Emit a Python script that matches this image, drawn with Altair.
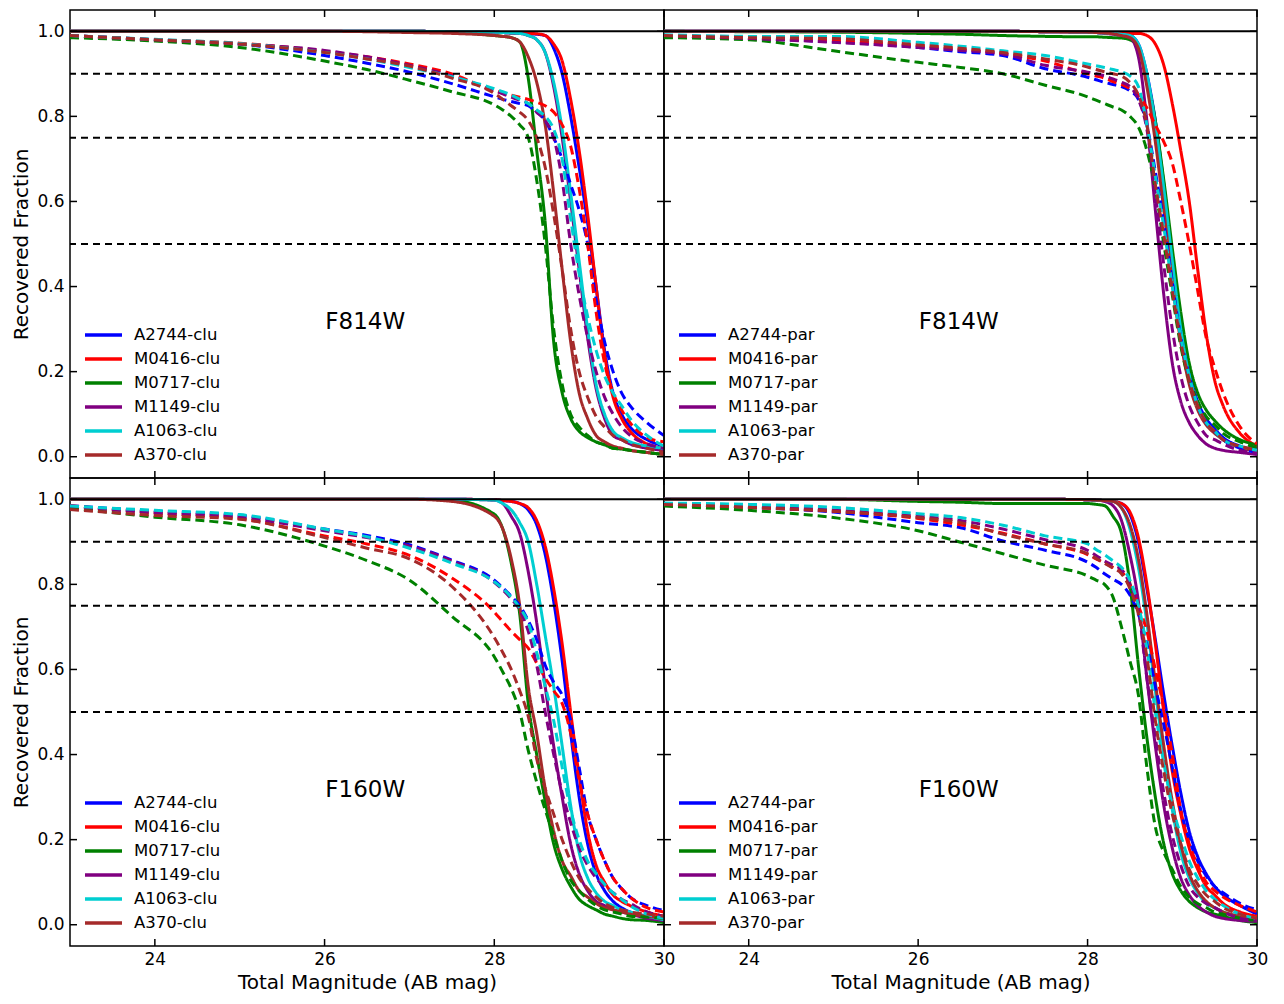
import altair as alt
import pandas as pd

FONT = "DejaVu Sans"

# magnitude grid shared by every curve
MAG = [23.0, 24.0, 25.0, 26.0, 26.5, 27.0, 27.5, 28.0, 28.1, 28.2, 28.3, 28.4, 28.5,
       28.6, 28.7, 28.8, 28.9, 29.0, 29.1, 29.2, 29.3, 29.4, 29.5, 29.6, 29.8, 30.0]

CLUSTERS = ["A2744", "M0416", "M0717", "M1149", "A1063", "A370"]
COLORS = ["#0000ff", "#ff0000", "#008000", "#800080", "#00ced1", "#a52a2a"]
VARIANTS = ["A", "B"]  # A = solid curves, B = dashed curves

X_TICKS = [24, 26, 28, 30]
Y_TICKS = [0.0, 0.2, 0.4, 0.6, 0.8, 1.0]
REF_SOLID = [1.0]
REF_DASHED = [0.9, 0.75, 0.5]

# ---------------- F814W, cluster fields ----------------
F814W_CLU_A = [
    [1, 1, 1, 1, 1, 1, 0.999, 0.998, 0.997, 0.996, 0.995, 0.994, 0.993, 0.99, 0.96, 0.90, 0.80, 0.68, 0.55, 0.40, 0.25, 0.15, 0.10, 0.07, 0.04, 0.025],
    [1, 1, 1, 1, 1, 1, 0.999, 0.998, 0.997, 0.996, 0.995, 0.995, 0.994, 0.99, 0.97, 0.93, 0.84, 0.72, 0.57, 0.40, 0.24, 0.14, 0.09, 0.06, 0.03, 0.02],
    [1, 1, 1, 1, 1, 1, 0.998, 0.99, 0.988, 0.985, 0.975, 0.89, 0.72, 0.55, 0.27, 0.15, 0.09, 0.06, 0.045, 0.035, 0.028, 0.02, 0.018, 0.015, 0.01, 0.005],
    [1, 1, 1, 1, 1, 1, 0.999, 0.998, 0.997, 0.996, 0.995, 0.99, 0.98, 0.95, 0.87, 0.75, 0.60, 0.44, 0.28, 0.16, 0.09, 0.05, 0.04, 0.03, 0.02, 0.015],
    [1, 1, 1, 1, 1, 1, 0.999, 0.998, 0.997, 0.996, 0.995, 0.99, 0.98, 0.95, 0.88, 0.77, 0.62, 0.46, 0.30, 0.17, 0.10, 0.06, 0.045, 0.035, 0.025, 0.02],
    [1, 1, 1, 1, 0.999, 0.997, 0.995, 0.99, 0.988, 0.985, 0.975, 0.94, 0.88, 0.78, 0.62, 0.44, 0.27, 0.15, 0.09, 0.05, 0.035, 0.025, 0.02, 0.015, 0.01, 0.005],
]
F814W_CLU_B = [
    [0.99, 0.98, 0.97, 0.943, 0.925, 0.904, 0.877, 0.846, 0.84, 0.835, 0.83, 0.825, 0.81, 0.79, 0.75, 0.70, 0.64, 0.58, 0.50, 0.37, 0.27, 0.20, 0.15, 0.12, 0.08, 0.05],
    [0.99, 0.98, 0.972, 0.953, 0.94, 0.923, 0.90, 0.86, 0.855, 0.85, 0.845, 0.84, 0.833, 0.825, 0.81, 0.78, 0.73, 0.63, 0.50, 0.34, 0.22, 0.15, 0.11, 0.08, 0.045, 0.035],
    [0.985, 0.977, 0.962, 0.93, 0.91, 0.885, 0.858, 0.827, 0.815, 0.80, 0.78, 0.75, 0.65, 0.50, 0.30, 0.17, 0.10, 0.07, 0.05, 0.035, 0.028, 0.02, 0.018, 0.015, 0.01, 0.005],
    [0.99, 0.98, 0.97, 0.955, 0.94, 0.92, 0.895, 0.86, 0.853, 0.845, 0.838, 0.83, 0.81, 0.79, 0.75, 0.65, 0.50, 0.38, 0.28, 0.20, 0.14, 0.10, 0.07, 0.05, 0.03, 0.02],
    [0.99, 0.981, 0.971, 0.95, 0.935, 0.915, 0.893, 0.865, 0.858, 0.85, 0.84, 0.83, 0.815, 0.80, 0.77, 0.70, 0.56, 0.43, 0.33, 0.25, 0.19, 0.15, 0.12, 0.09, 0.05, 0.025],
    [0.99, 0.98, 0.97, 0.95, 0.935, 0.918, 0.89, 0.854, 0.84, 0.825, 0.81, 0.79, 0.75, 0.68, 0.57, 0.44, 0.30, 0.20, 0.14, 0.095, 0.07, 0.05, 0.04, 0.03, 0.02, 0.01],
]

# ---------------- F814W, parallel fields ----------------
F814W_PAR_A = [
    [1, 1, 1, 1, 1, 1, 0.999, 0.998, 0.997, 0.996, 0.995, 0.993, 0.99, 0.97, 0.90, 0.79, 0.64, 0.47, 0.31, 0.20, 0.13, 0.09, 0.065, 0.045, 0.025, 0.015],
    [1, 1, 1, 1, 1, 1, 0.999, 0.998, 0.998, 0.997, 0.997, 0.996, 0.995, 0.995, 0.99, 0.97, 0.92, 0.83, 0.72, 0.60, 0.44, 0.29, 0.18, 0.12, 0.055, 0.025],
    [1, 0.999, 0.998, 0.995, 0.993, 0.99, 0.988, 0.987, 0.987, 0.986, 0.985, 0.984, 0.98, 0.96, 0.89, 0.79, 0.65, 0.49, 0.34, 0.22, 0.15, 0.11, 0.085, 0.065, 0.04, 0.028],
    [1, 1, 1, 1, 1, 1, 0.999, 0.998, 0.997, 0.995, 0.993, 0.99, 0.985, 0.94, 0.79, 0.58, 0.38, 0.22, 0.13, 0.08, 0.05, 0.03, 0.02, 0.015, 0.01, 0.005],
    [1, 1, 1, 1, 1, 1, 0.999, 0.998, 0.997, 0.996, 0.995, 0.993, 0.99, 0.97, 0.90, 0.78, 0.63, 0.46, 0.30, 0.19, 0.12, 0.08, 0.06, 0.04, 0.022, 0.013],
    [1, 1, 1, 1, 1, 1, 0.999, 0.998, 0.997, 0.996, 0.994, 0.99, 0.985, 0.96, 0.87, 0.74, 0.58, 0.41, 0.27, 0.17, 0.11, 0.075, 0.055, 0.04, 0.022, 0.012],
]
F814W_PAR_B = [
    [0.99, 0.983, 0.975, 0.962, 0.952, 0.943, 0.912, 0.892, 0.886, 0.88, 0.875, 0.87, 0.86, 0.84, 0.78, 0.67, 0.55, 0.41, 0.28, 0.19, 0.12, 0.08, 0.06, 0.04, 0.02, 0.01],
    [0.99, 0.983, 0.978, 0.966, 0.958, 0.947, 0.93, 0.90, 0.895, 0.89, 0.882, 0.875, 0.865, 0.85, 0.82, 0.78, 0.74, 0.69, 0.60, 0.50, 0.39, 0.28, 0.21, 0.15, 0.07, 0.03],
    [0.985, 0.98, 0.954, 0.927, 0.915, 0.90, 0.873, 0.846, 0.838, 0.83, 0.822, 0.815, 0.80, 0.775, 0.72, 0.63, 0.50, 0.38, 0.26, 0.18, 0.13, 0.095, 0.075, 0.055, 0.035, 0.02],
    [0.99, 0.983, 0.974, 0.962, 0.955, 0.947, 0.92, 0.904, 0.90, 0.895, 0.888, 0.88, 0.87, 0.84, 0.77, 0.62, 0.45, 0.30, 0.19, 0.12, 0.08, 0.05, 0.04, 0.03, 0.015, 0.01],
    [0.992, 0.988, 0.988, 0.974, 0.965, 0.954, 0.943, 0.923, 0.919, 0.915, 0.91, 0.905, 0.895, 0.87, 0.78, 0.66, 0.54, 0.40, 0.28, 0.19, 0.12, 0.08, 0.06, 0.04, 0.025, 0.015],
    [0.99, 0.985, 0.983, 0.968, 0.96, 0.95, 0.935, 0.916, 0.91, 0.905, 0.90, 0.895, 0.88, 0.85, 0.78, 0.64, 0.52, 0.39, 0.27, 0.18, 0.12, 0.08, 0.06, 0.04, 0.025, 0.015],
]

# ---------------- F160W, cluster fields ----------------
F160W_CLU_A = [
    [1, 1, 1, 1, 1, 1, 1, 0.999, 0.997, 0.995, 0.99, 0.975, 0.94, 0.87, 0.76, 0.62, 0.45, 0.30, 0.19, 0.12, 0.08, 0.055, 0.04, 0.03, 0.02, 0.012],
    [1, 1, 1, 1, 1, 1, 1, 0.999, 0.997, 0.995, 0.99, 0.98, 0.95, 0.89, 0.79, 0.66, 0.50, 0.35, 0.22, 0.14, 0.10, 0.07, 0.055, 0.045, 0.03, 0.02],
    [1, 1, 1, 1, 1, 1, 0.998, 0.965, 0.93, 0.85, 0.73, 0.52, 0.40, 0.29, 0.19, 0.13, 0.09, 0.06, 0.045, 0.035, 0.025, 0.02, 0.015, 0.012, 0.01, 0.005],
    [1, 1, 1, 1, 1, 1, 1, 0.998, 0.99, 0.96, 0.92, 0.83, 0.71, 0.56, 0.42, 0.30, 0.19, 0.12, 0.08, 0.055, 0.045, 0.035, 0.03, 0.025, 0.015, 0.01],
    [1, 1, 1, 1, 1, 1, 1, 0.998, 0.99, 0.975, 0.945, 0.90, 0.80, 0.68, 0.56, 0.42, 0.28, 0.17, 0.11, 0.075, 0.055, 0.045, 0.035, 0.03, 0.02, 0.012],
    [1, 1, 1, 1, 1, 1, 0.995, 0.96, 0.93, 0.86, 0.75, 0.56, 0.45, 0.32, 0.22, 0.15, 0.115, 0.08, 0.065, 0.05, 0.04, 0.035, 0.03, 0.025, 0.02, 0.015],
]
F160W_CLU_B = [
    [0.985, 0.972, 0.962, 0.93, 0.915, 0.893, 0.857, 0.81, 0.792, 0.772, 0.75, 0.715, 0.67, 0.61, 0.57, 0.54, 0.48, 0.37, 0.26, 0.20, 0.15, 0.11, 0.085, 0.065, 0.045, 0.033],
    [0.985, 0.968, 0.955, 0.914, 0.895, 0.868, 0.815, 0.735, 0.712, 0.69, 0.67, 0.65, 0.615, 0.58, 0.55, 0.52, 0.45, 0.34, 0.26, 0.20, 0.15, 0.11, 0.085, 0.065, 0.04, 0.03],
    [0.98, 0.958, 0.94, 0.89, 0.856, 0.81, 0.725, 0.63, 0.594, 0.555, 0.50, 0.41, 0.335, 0.27, 0.21, 0.15, 0.105, 0.08, 0.06, 0.045, 0.035, 0.03, 0.025, 0.02, 0.018, 0.015],
    [0.984, 0.968, 0.958, 0.926, 0.91, 0.89, 0.855, 0.805, 0.787, 0.766, 0.74, 0.69, 0.61, 0.50, 0.40, 0.31, 0.24, 0.18, 0.14, 0.11, 0.09, 0.075, 0.06, 0.05, 0.03, 0.02],
    [0.984, 0.974, 0.964, 0.93, 0.912, 0.885, 0.85, 0.806, 0.79, 0.77, 0.745, 0.71, 0.64, 0.56, 0.48, 0.37, 0.27, 0.20, 0.15, 0.12, 0.095, 0.075, 0.06, 0.045, 0.025, 0.015],
    [0.976, 0.962, 0.953, 0.91, 0.885, 0.86, 0.795, 0.675, 0.64, 0.60, 0.55, 0.49, 0.39, 0.32, 0.26, 0.20, 0.15, 0.11, 0.085, 0.065, 0.05, 0.04, 0.035, 0.03, 0.025, 0.02],
]

# ---------------- F160W, parallel fields ----------------
F160W_PAR_A = [
    [1, 1, 1, 1, 1, 1, 1, 0.999, 0.998, 0.997, 0.995, 0.99, 0.965, 0.90, 0.79, 0.67, 0.54, 0.42, 0.31, 0.22, 0.16, 0.12, 0.09, 0.07, 0.045, 0.025],
    [1, 1, 1, 1, 1, 1, 1, 0.999, 0.998, 0.997, 0.995, 0.99, 0.97, 0.91, 0.80, 0.66, 0.50, 0.36, 0.26, 0.18, 0.13, 0.09, 0.07, 0.05, 0.03, 0.02],
    [1, 1, 1, 0.995, 0.993, 0.99, 0.99, 0.99, 0.988, 0.985, 0.96, 0.92, 0.80, 0.61, 0.44, 0.30, 0.19, 0.12, 0.08, 0.055, 0.04, 0.03, 0.025, 0.02, 0.01, 0.005],
    [1, 1, 1, 1, 1, 1, 1, 0.999, 0.998, 0.995, 0.985, 0.95, 0.87, 0.76, 0.58, 0.42, 0.28, 0.18, 0.11, 0.07, 0.045, 0.03, 0.02, 0.015, 0.01, 0.008],
    [1, 1, 1, 1, 1, 1, 1, 0.999, 0.998, 0.997, 0.995, 0.98, 0.93, 0.84, 0.71, 0.55, 0.40, 0.27, 0.17, 0.11, 0.075, 0.05, 0.04, 0.03, 0.02, 0.012],
    [1, 1, 1, 1, 1, 1, 1, 0.999, 0.998, 0.997, 0.995, 0.98, 0.94, 0.86, 0.73, 0.57, 0.42, 0.29, 0.19, 0.12, 0.08, 0.055, 0.04, 0.03, 0.02, 0.01],
]
F160W_PAR_B = [
    [0.988, 0.981, 0.97, 0.945, 0.933, 0.902, 0.88, 0.852, 0.84, 0.825, 0.812, 0.80, 0.775, 0.73, 0.66, 0.56, 0.47, 0.37, 0.27, 0.20, 0.15, 0.115, 0.09, 0.075, 0.05, 0.035],
    [0.988, 0.981, 0.972, 0.955, 0.94, 0.92, 0.895, 0.87, 0.86, 0.85, 0.84, 0.83, 0.80, 0.75, 0.69, 0.60, 0.51, 0.40, 0.27, 0.19, 0.14, 0.10, 0.08, 0.065, 0.045, 0.03],
    [0.984, 0.974, 0.957, 0.926, 0.899, 0.872, 0.845, 0.82, 0.81, 0.80, 0.77, 0.70, 0.62, 0.54, 0.37, 0.23, 0.17, 0.13, 0.09, 0.065, 0.05, 0.04, 0.03, 0.025, 0.015, 0.01],
    [0.99, 0.984, 0.975, 0.96, 0.95, 0.93, 0.905, 0.88, 0.868, 0.855, 0.845, 0.835, 0.80, 0.74, 0.58, 0.44, 0.31, 0.21, 0.14, 0.09, 0.065, 0.05, 0.04, 0.03, 0.015, 0.01],
    [0.991, 0.988, 0.981, 0.966, 0.957, 0.939, 0.914, 0.895, 0.882, 0.87, 0.855, 0.84, 0.81, 0.75, 0.65, 0.50, 0.38, 0.28, 0.21, 0.15, 0.11, 0.08, 0.06, 0.045, 0.025, 0.015],
    [0.988, 0.981, 0.972, 0.957, 0.945, 0.918, 0.895, 0.872, 0.861, 0.85, 0.838, 0.825, 0.79, 0.73, 0.63, 0.48, 0.36, 0.26, 0.19, 0.13, 0.095, 0.07, 0.055, 0.04, 0.025, 0.015],
]

PANEL_LABEL_MAG = 26.48
PANEL_LABEL_FRAC = 0.316

H = 468
W_LEFT = 594
W_RIGHT = 593
TICK_LEN = 7


def make_panel(band, field_kind, solid, dashed, show_x, show_y, width):
    names = [f"{c}-{field_kind}" for c in CLUSTERS]
    rows = []
    for variant, block in zip(VARIANTS, [solid, dashed]):
        for name, vals in zip(names, block):
            for m, v in zip(MAG, vals):
                rows.append({"mag": m, "frac": v, "series": name, "variant": variant})
    df = pd.DataFrame(rows)

    xscale = alt.Scale(domain=[23, 30], nice=False, zero=False)
    yscale = alt.Scale(domain=[-0.05, 1.05], nice=False, zero=False)

    if show_x:
        xaxis = alt.Axis(values=X_TICKS, format="d", title="Total Magnitude (AB mag)",
                         labelPadding=5, titlePadding=5)
    else:
        xaxis = None
    if show_y:
        yaxis = alt.Axis(values=Y_TICKS, format=".1f", title="Recovered Fraction",
                         labelPadding=6, titlePadding=5)
    else:
        yaxis = None

    def X(field):
        return alt.X(field, scale=xscale, axis=xaxis, title="Total Magnitude (AB mag)")

    def Y(field):
        return alt.Y(field, scale=yscale, axis=yaxis, title="Recovered Fraction")

    lines = alt.Chart(df).mark_line(strokeWidth=3, interpolate="monotone", clip=True).encode(
        x=X("mag:Q"),
        y=Y("frac:Q"),
        color=alt.Color(
            "series:N",
            scale=alt.Scale(domain=names, range=COLORS),
            legend=alt.Legend(
                title=None, orient="bottom-left", offset=13, padding=0,
                symbolType="stroke", symbolSize=1369, symbolStrokeWidth=3.5,
                labelFontSize=16.5, labelFont=FONT, labelColor="black",
                labelOffset=10, clipHeight=20, rowPadding=4, labelLimit=300,
            ),
        ),
        strokeDash=alt.StrokeDash(
            "variant:N",
            scale=alt.Scale(domain=VARIANTS, range=[[1, 0], [9, 5]]),
            legend=None,
        ),
    )

    solid_ref = alt.Chart(pd.DataFrame({"level": REF_SOLID})).mark_rule(
        color="black", strokeWidth=2
    ).encode(y=Y("level:Q"))
    dashed_ref = alt.Chart(pd.DataFrame({"level": REF_DASHED})).mark_rule(
        color="black", strokeWidth=2, strokeDash=[7, 5]
    ).encode(y=Y("level:Q"))

    xt = pd.DataFrame({"t": X_TICKS})
    yt = pd.DataFrame({"t": Y_TICKS})
    tick_style = dict(color="black", strokeWidth=1.5)
    xt_bottom = alt.Chart(xt).mark_rule(**tick_style).encode(
        x=X("t:Q"), y=alt.value(H), y2=alt.value(H - TICK_LEN))
    xt_top = alt.Chart(xt).mark_rule(**tick_style).encode(
        x=X("t:Q"), y=alt.value(0), y2=alt.value(TICK_LEN))
    yt_left = alt.Chart(yt).mark_rule(**tick_style).encode(
        y=Y("t:Q"), x=alt.value(0), x2=alt.value(TICK_LEN))
    yt_right = alt.Chart(yt).mark_rule(**tick_style).encode(
        y=Y("t:Q"), x=alt.value(width - TICK_LEN), x2=alt.value(width))

    label = alt.Chart(pd.DataFrame({"mag": [PANEL_LABEL_MAG], "frac": [PANEL_LABEL_FRAC], "text": [band]})).mark_text(
        font=FONT, fontSize=23, color="black", align="center", baseline="middle"
    ).encode(
        x=X("mag:Q"),
        y=Y("frac:Q"),
        text="text:N",
    )

    return alt.layer(lines, solid_ref, dashed_ref, xt_bottom, xt_top, yt_left, yt_right, label).properties(
        width=width, height=H
    )


tl = make_panel("F814W", "clu", F814W_CLU_A, F814W_CLU_B, False, True, W_LEFT)
tr = make_panel("F814W", "par", F814W_PAR_A, F814W_PAR_B, False, False, W_RIGHT)
bl = make_panel("F160W", "clu", F160W_CLU_A, F160W_CLU_B, True, True, W_LEFT)
br = make_panel("F160W", "par", F160W_PAR_A, F160W_PAR_B, True, False, W_RIGHT)

chart = (
    alt.concat(tl, tr, bl, br, columns=2, spacing=0, bounds="flush")
    .resolve_scale(color="independent", strokeDash="independent")
    .properties(padding={"left": 3, "top": 0, "right": 5, "bottom": 0})
    .configure_view(stroke="black", strokeWidth=1.5)
    .configure_axis(
        labelFont=FONT, labelFontSize=17, labelColor="black",
        titleFont=FONT, titleFontSize=20, titleFontWeight="normal", titleColor="black",
        grid=False, domain=False, ticks=False, tickSize=0,
        labelFlush=False, labelOverlap=False, labelBound=False,
    )
)

chart.save("out.html", embed_options={"renderer": "svg", "actions": False})
